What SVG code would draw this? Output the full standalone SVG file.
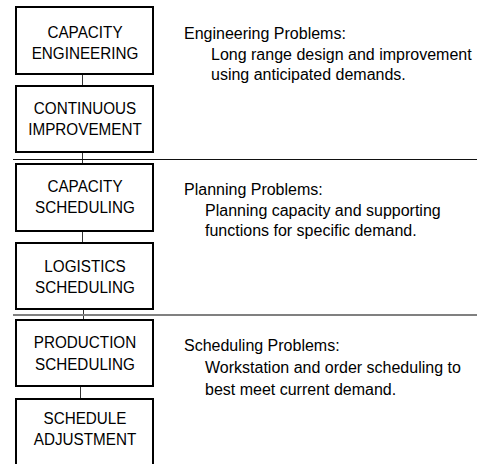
<svg xmlns="http://www.w3.org/2000/svg" width="477" height="464" viewBox="0 0 477 464">
<style>
.box{fill:#fff;stroke:#000;stroke-width:2}
.bt{font-family:"Liberation Sans",Arial,sans-serif;font-size:16.5px;text-anchor:middle;fill:#000}
.rt{font-family:"Liberation Sans",Arial,sans-serif;font-size:16px;fill:#000}
.conn{stroke:#333;stroke-width:1;fill:none}
</style>
<rect width="477" height="464" fill="#fff"/>
<g id="connectors">
<line class="conn" x1="82.5" y1="74" x2="82.5" y2="86"/>
<line class="conn" x1="82.5" y1="152" x2="82.5" y2="164"/>
<line class="conn" x1="82.5" y1="231" x2="82.5" y2="243"/>
<line class="conn" x1="83.5" y1="309" x2="83.5" y2="320"/>
<line class="conn" x1="80.5" y1="386" x2="80.5" y2="399"/>
</g>
<g id="separators">
<line x1="13" y1="159.5" x2="477" y2="159.5" stroke="#111" stroke-width="1"/>
<line x1="13" y1="315" x2="477" y2="315" stroke="#808080" stroke-width="2"/>
</g>
<g id="capacity-engineering">
<rect class="box" x="16" y="7" width="137" height="67"/>
<text class="bt" transform="translate(85 37.5) scale(0.925 1)">CAPACITY</text>
<text class="bt" transform="translate(85 58.5) scale(0.925 1)">ENGINEERING</text>
</g>
<g id="continuous-improvement">
<rect class="box" x="16" y="86" width="137" height="66"/>
<text class="bt" transform="translate(85 113.5) scale(0.925 1)">CONTINUOUS</text>
<text class="bt" transform="translate(85 135) scale(0.925 1)">IMPROVEMENT</text>
</g>
<g id="capacity-scheduling">
<rect class="box" x="16" y="164" width="137" height="67"/>
<text class="bt" transform="translate(85 191.5) scale(0.925 1)">CAPACITY</text>
<text class="bt" transform="translate(85 213) scale(0.925 1)">SCHEDULING</text>
</g>
<g id="logistics-scheduling">
<rect class="box" x="16" y="243" width="137" height="66"/>
<text class="bt" transform="translate(85 271.5) scale(0.925 1)">LOGISTICS</text>
<text class="bt" transform="translate(85 293) scale(0.925 1)">SCHEDULING</text>
</g>
<g id="production-scheduling">
<rect class="box" x="16" y="320" width="137" height="66"/>
<text class="bt" transform="translate(85 348) scale(0.925 1)">PRODUCTION</text>
<text class="bt" transform="translate(85 370) scale(0.925 1)">SCHEDULING</text>
</g>
<g id="schedule-adjustment">
<rect class="box" x="16" y="399" width="137" height="68"/>
<text class="bt" transform="translate(85 423.5) scale(0.925 1)">SCHEDULE</text>
<text class="bt" transform="translate(85 445) scale(0.925 1)">ADJUSTMENT</text>
</g>
<g id="engineering-problems">
<text class="rt" x="184" y="39">Engineering Problems:</text>
<text class="rt" x="211" y="59.5">Long range design and improvement</text>
<text class="rt" x="211" y="80">using anticipated demands.</text>
</g>
<g id="planning-problems">
<text class="rt" x="184" y="195">Planning Problems:</text>
<text class="rt" x="205" y="215.5">Planning capacity and supporting</text>
<text class="rt" x="205" y="236">functions for specific demand.</text>
</g>
<g id="scheduling-problems">
<text class="rt" x="184" y="350.5">Scheduling Problems:</text>
<text class="rt" x="205" y="372.5">Workstation and order scheduling to</text>
<text class="rt" x="205" y="395">best meet current demand.</text>
</g>
</svg>
